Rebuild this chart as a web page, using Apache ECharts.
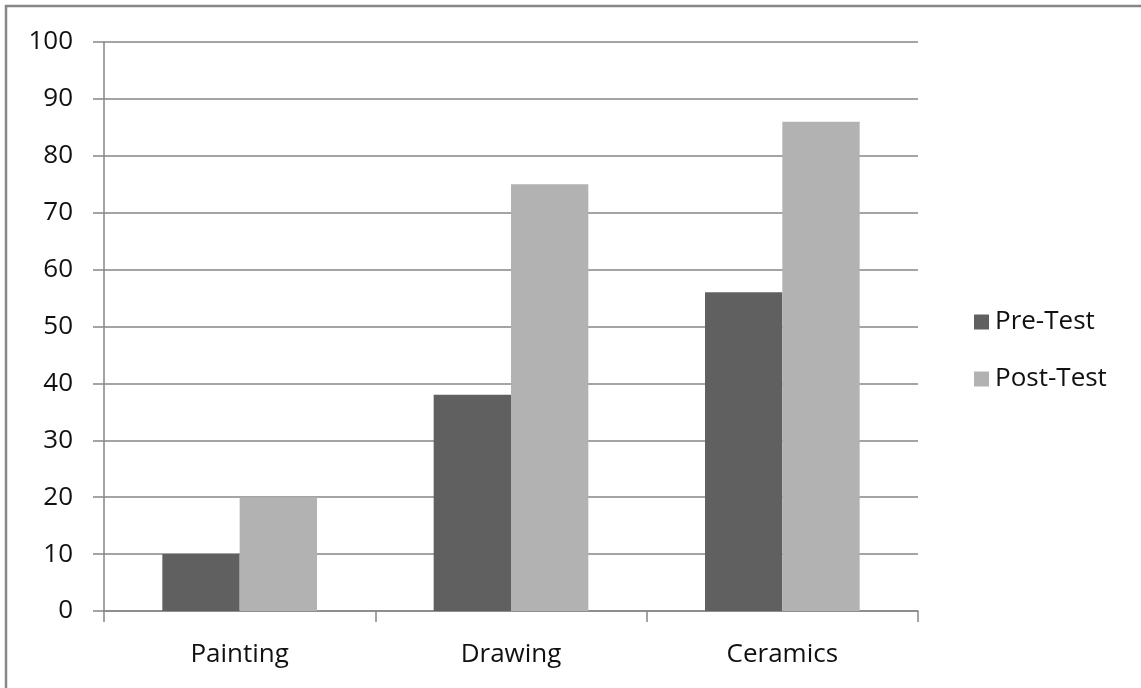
<!DOCTYPE html>
<html>
<head>
<meta charset="utf-8">
<script src="https://cdn.jsdelivr.net/npm/echarts@6/dist/echarts.min.js"></script>
<style>
  html, body { margin: 0; padding: 0; background: #fff; }
  #chart { width: 1141px; height: 688px; }
</style>
</head>
<body>
<div id="chart"></div>
<script>
// Scores by art discipline, before and after the course
const categories = ['Painting', 'Drawing', 'Ceramics'];
const preTest = [10, 38, 56];
const postTest = [20, 75, 86];
const seriesNames = ['Pre-Test', 'Post-Test'];

const FONT = '"Open Sans", "Liberation Sans", sans-serif';
const TEXT_COLOR = '#111';
const GRID_COLOR = '#868686';

const chart = echarts.init(document.getElementById('chart'), null, { renderer: 'canvas' });
chart.setOption({
  backgroundColor: '#fff',
  animation: false,
  // chart frame (runs off the right and bottom edges of the page)
  graphic: [{
    type: 'rect',
    shape: { x: 6, y: 6, width: 1200, height: 760 },
    style: { fill: 'none', stroke: '#878787', lineWidth: 2.5 },
    silent: true
  }],
  grid: { left: 104, right: 223, top: 42, bottom: 77, containLabel: false },
  legend: {
    orient: 'vertical',
    left: 969,
    top: 304,
    itemWidth: 15,
    itemHeight: 15,
    itemGap: 31,
    icon: 'rect',
    textStyle: { fontFamily: FONT, fontSize: 26, color: TEXT_COLOR, padding: [0, 0, 0, 1] },
    data: seriesNames
  },
  xAxis: {
    type: 'category',
    data: categories,
    axisLine: { lineStyle: { color: GRID_COLOR, width: 1.5 } },
    axisTick: { show: true, length: 11, alignWithLabel: false, lineStyle: { color: GRID_COLOR, width: 1.5 } },
    axisLabel: { fontFamily: FONT, fontSize: 26, color: TEXT_COLOR, margin: 31 }
  },
  yAxis: {
    type: 'value',
    min: 0,
    max: 100,
    interval: 10,
    axisLine: { show: true, lineStyle: { color: GRID_COLOR, width: 1.5 } },
    axisTick: { show: true, length: 11, inside: false, lineStyle: { color: GRID_COLOR, width: 1.5 } },
    axisLabel: { fontFamily: FONT, fontSize: 26, color: TEXT_COLOR, margin: 31 },
    splitLine: { show: true, lineStyle: { color: GRID_COLOR, width: 1.5 } }
  },
  series: [
    {
      name: seriesNames[0],
      type: 'bar',
      data: preTest,
      barGap: '0%',
      barCategoryGap: '43%',
      itemStyle: { color: '#606060' }
    },
    {
      name: seriesNames[1],
      type: 'bar',
      data: postTest,
      barGap: '0%',
      barCategoryGap: '43%',
      itemStyle: { color: '#b2b2b2' }
    }
  ]
});
</script>
</body>
</html>
